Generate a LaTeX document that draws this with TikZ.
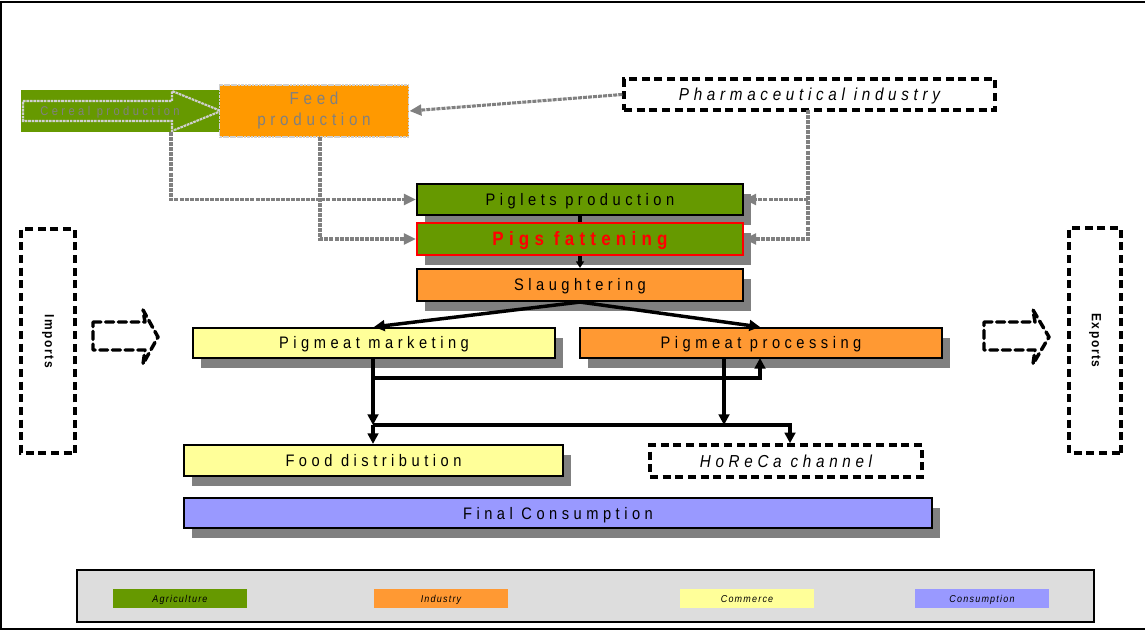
\documentclass[tikz,border=0pt]{standalone}
\usepackage{fontspec}
\setmainfont{Liberation Sans}
\newfontfamily\spaced[LetterSpace=27, FakeStretch=0.88]{Liberation Sans}
\newfontfamily\lightspaced[LetterSpace=12, FakeStretch=0.9]{Liberation Sans}
\usetikzlibrary{arrows.meta,shadows}

\definecolor{agri}{HTML}{669900}
\definecolor{indus}{HTML}{FF9933}
\definecolor{feedor}{HTML}{FF9900}
\definecolor{comm}{HTML}{FFFF99}
\definecolor{cons}{HTML}{9999FF}
\definecolor{shade}{HTML}{808080}
\definecolor{legbg}{HTML}{DDDDDD}
\definecolor{flowgray}{HTML}{808080}
\definecolor{edgegray}{HTML}{D0D0D0}

\begin{document}
\begin{tikzpicture}[x=0.75pt,y=-0.75pt,
  wh/.style 2 args={minimum width=#1*0.75pt, minimum height=#2*0.75pt},
  lbl/.style={font=\spaced\fontsize{12.5}{14}\selectfont, text height=9pt, text depth=0pt},
  ilbl/.style={font=\spaced\itshape\fontsize{13}{15}\selectfont, text height=9.3pt, text depth=0pt},
  box/.style={draw=black, line width=1.6pt, inner sep=0pt, lbl,
    drop shadow={shadow xshift=6pt, shadow yshift=-7.5pt, fill=shade, opacity=1}},
  dbox/.style={draw=black, line width=2.6pt, dash pattern=on 6pt off 3.5pt,
    inner sep=0pt, fill=white},
  darrow/.style={draw=black, line width=2.6pt, dash pattern=on 6pt off 3.5pt,
    line cap=round, line join=round},
  feedflow/.style={draw=flowgray, line width=2.3pt, dash pattern=on 3pt off 0.8pt,
    -{Triangle[length=9pt,width=8pt]}},
  flow/.style={draw=black, line width=2.6pt, -{Triangle[length=8pt,width=8pt]}},
  flowline/.style={draw=black, line width=2.6pt},
  legitem/.style={inner sep=0pt, wh={134}{19},
    font=\lightspaced\itshape\fontsize{7.5}{8}\selectfont, text height=5.4pt, text depth=0pt}
]
\useasboundingbox (0,0) rectangle (1145,630);

% frame
\draw[line width=2.2pt] (1145,2) -- (1,2) -- (1,629) -- (1145,629);

% cereal production with its block arrow
\node[fill=agri, inner sep=0pt, wh={201}{42}] (cereal) at (121.5,111) {};
\draw[edgegray, line width=1.6pt, dash pattern=on 2pt off 0.6pt]
  (23,101) -- (172,101) -- (172,91) -- (221,111) -- (172,131) -- (172,121) -- (23,121) -- cycle;
\node[text=flowgray, inner sep=0pt, font=\spaced\fontsize{9.5}{11}\selectfont,
  text height=6.8pt, text depth=0pt] (cerealtxt) at (110,111) {Cereal production};

% feed production
\node[fill=feedor, draw=edgegray, line width=1.4pt, dash pattern=on 2pt off 0.6pt,
  inner sep=0pt, wh={189}{52}, text=flowgray, align=center,
  font=\spaced\fontsize{13}{15.75}\selectfont] (feed) at (314,111) {Feed\\production};

% pharmaceutical industry
\node[dbox, wh={371}{31}, ilbl] (pharma) at (809.5,94.5) {Pharmaceutical industry};

% chain of production
\node[box, fill=agri, wh={326}{31}] (piglets) at (580,199.5) {Piglets production};
\node[box, fill=agri, draw=red, wh={326}{32}, text=red,
  font=\spaced\bfseries\fontsize{14.5}{16}\selectfont, text height=10.4pt] (fatten) at (580,239) {Pigs fattening};
\node[box, fill=indus, wh={326}{32}] (slaughter) at (580,285) {Slaughtering};
\node[box, fill=comm, wh={362}{30}] (marketing) at (374,343) {Pigmeat marketing};
\node[box, fill=indus, wh={362}{30}] (processing) at (761,343) {Pigmeat processing};
\node[box, fill=comm, wh={379}{31}] (fooddist) at (373.5,460.5) {Food distribution};
\node[dbox, wh={272}{32}, ilbl] (horeca) at (786,461) {HoReCa channel};
\node[box, fill=cons, wh={748}{30}] (final) at (558,513) {Final Consumption};

% imports and exports
\node[dbox, rotate=-90, wh={224}{54}, font=\lightspaced\bfseries\fontsize{10}{12}\selectfont]
  (imports) at (48,341) {Imports};
\node[dbox, rotate=-90, wh={225}{52}, font=\lightspaced\bfseries\fontsize{10}{12}\selectfont]
  (exports) at (1095,340.5) {Exports};
\draw[darrow] (93,322) -- (145,322) -- (143,310) -- (158,337) -- (143,364) -- (145,350) -- (93,350) -- cycle;
\draw[darrow] (984,322) -- (1035,322) -- (1033,310) -- (1049,337) -- (1033,364) -- (1035,350) -- (984,350) -- cycle;

% supplies of feed and medicines
\coordinate (cerealdrop) at (171,132);
\coordinate (feeddrop) at (320,137);
\coordinate (pharmadrop) at (808,110);
\draw[feedflow] (pharma.west) -- (feed.east);
\draw[feedflow] (cerealdrop) |- (piglets.west);
\draw[feedflow] (feeddrop) |- (fatten.west);
\draw[feedflow] (pharmadrop) |- (fatten.east);
\draw[feedflow] (pharmadrop |- piglets.east) -- (piglets.east);

% flow of pigs and meat
\draw[flowline] (piglets.south) -- (fatten.north);
\draw[black, line width=2.4pt, -{Triangle[length=5pt,width=6pt]}] (fatten.south) -- (slaughter.north);
\draw[flow] (slaughter.south) -- (marketing.north);
\draw[flow] (slaughter.south) -- ([xshift=-1*0.75pt]processing.north);
\coordinate (split) at (373,425);
\draw[flow] (marketing.south -| split) -- (split);
\draw[flow] (split) -- (fooddist.north -| split);
\draw[flow] (373,378) -| (760,358);
\draw[flow] (724,358) -- (724,425);
\draw[flow] (split) -| (horeca.north -| 790,0);

% legend
\node[draw=black, line width=1.5pt, fill=legbg, inner sep=0pt, wh={1017}{52}] (legend) at (585.5,596) {};
\node[legitem, fill=agri] (lagri) at (180,598.5) {Agriculture};
\node[legitem, fill=indus] (lindus) at (441,598.5) {Industry};
\node[legitem, fill=comm] (lcomm) at (747,598.5) {Commerce};
\node[legitem, fill=cons] (lcons) at (982,598.5) {Consumption};
\end{tikzpicture}
\end{document}
